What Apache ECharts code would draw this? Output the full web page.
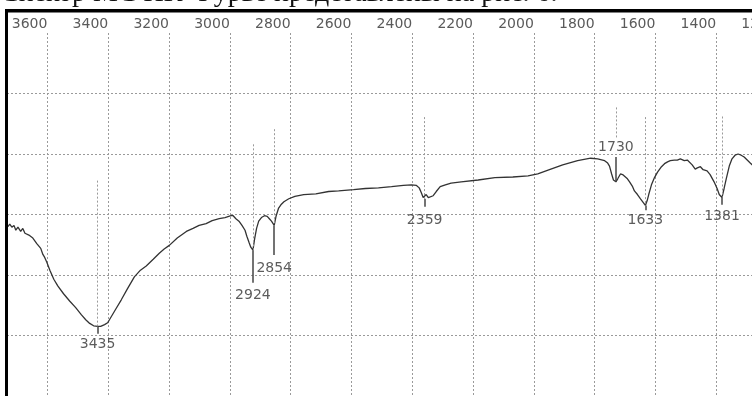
<!DOCTYPE html>
<html><head><meta charset="utf-8">
<script src="https://cdn.jsdelivr.net/npm/echarts@6/dist/echarts.min.js"></script>
<style>html,body{margin:0;padding:0;background:#fff;overflow:hidden;width:752px;height:396px;}#c{width:780px;height:396px;}</style>
</head><body><div id="c"></div>
<script>
// IR spectrum, wavenumber (cm-1) vs transmittance (arbitrary units)
const wavenumbers = [3730,3724,3717,3710,3704,3697,3688,3681,3674,3668,3661,3655,3648,3642,3635,3629,3622,3615,3609,3602,
3592,3579,3566,3547,3527,3507,3488,3474,3461,3448,3435,3425,3412,3402,3396,3376,3357,3337,3314,3294,3275,3252,3232,3216,3199,
3173,3143,3121,3101,3078,3058,3035,3016,2996,2989,2980,2970,2960,2950,2944,2937,2931,2924,2918,2912,2905,2896,2886,2877,2870,
2863,2854,2848,2840,2832,2822,2806,2786,2757,2717,2675,2642,2593,2554,2511,2468,2429,2403,2386,2377,2370,2364,2359,2354,2347,
2341,2331,2321,2308,2291,2272,2239,2183,2128,2069,2019,1987,1944,1905,1856,1813,1790,1767,1757,1751,1744,1738,1730,1724,1715,
1708,1702,1692,1685,1675,1669,1659,1649,1643,1633,1627,1622,1613,1603,1593,1580,1570,1560,1551,1538,1528,1518,1505,1495,1489,
1479,1469,1462,1452,1443,1430,1420,1407,1397,1390,1381,1374,1367,1357,1348,1338,1328,1318,1308,1298,1288,1275];
const transmittance = [68.0,68.4,67.9,68.2,67.4,67.9,67.2,67.7,66.9,67.2,66.6,66.9,66.1,66.2,65.2,65.4,64.4,63.4,62.9,62.1,
60.8,59.3,58.2,56.9,55.7,54.6,53.4,52.6,52.0,51.6,51.5,51.5,51.8,52.1,52.6,54.3,55.9,57.7,59.7,60.8,61.5,62.6,63.6,64.3,64.9,
66.1,67.2,67.7,68.2,68.5,69.0,69.3,69.5,69.8,69.8,69.3,68.9,68.2,67.4,66.4,65.4,64.6,64.1,66.1,67.7,68.9,69.5,69.8,69.7,69.3,
68.9,68.2,69.7,71.0,71.6,72.1,72.6,73.0,73.3,73.4,73.8,73.9,74.1,74.3,74.4,74.6,74.8,74.9,74.8,74.4,73.6,72.8,72.6,73.3,72.8,
72.8,73.1,73.8,74.6,74.9,75.2,75.4,75.7,76.1,76.2,76.4,76.7,77.5,78.2,78.9,79.3,79.2,78.9,78.5,78.0,76.7,75.7,75.4,75.9,76.7,
76.6,76.4,75.9,75.4,74.6,73.9,73.3,72.6,72.3,71.5,72.3,73.3,74.9,76.1,77.0,77.9,78.4,78.7,78.9,79.0,79.0,79.2,78.9,79.0,78.7,
78.2,77.5,77.7,77.9,77.4,77.2,76.6,75.4,74.3,73.3,72.8,74.3,75.9,78.0,79.2,79.8,80.0,79.8,79.5,79.0,78.5,77.9];

// peak annotations
const peakWn      = [3435, 2924, 2854, 2359, 1730, 1633, 1381];
const guideTop    = [75.6, 81.6, 84.1, 86.1, 87.7, 86.1, 86.2];
const guideBottom = [51.5, 64.1, 68.2, 72.6, 82.5, 71.5, 72.8];
const stemFrom    = [51.5, 64.1, 68.2, 72.6, 79.5, 71.5, 72.8];
const stemTo      = [50.3, 58.7, 63.3, 71.3, 75.4, 70.7, 71.6];
const labelY      = [48.5, 56.7, 61.1, 69.0, 81.1, 69.0, 69.7];

// axis ticks
const xMin = 1200, xMax = 3733, xStep = 200;
const yMin = 40, yMax = 100, yStep = 10;

const chart = echarts.init(document.getElementById('c'), null, {renderer: 'canvas'});
const dotted = {type: [2, 2], color: '#9a9a9a', width: 1};

chart.setOption({
  animation: false,
  backgroundColor: '#fff',
  grid: {left: 7, right: 0, top: 33, bottom: -3, containLabel: false},
  xAxis: {
    type: 'value', inverse: true, position: 'top',
    min: xMin, max: xMax, interval: xStep,
    axisLine: {show: false}, axisTick: {show: false},
    axisLabel: {align: 'right', margin: 2, color: '#5a5a5a', fontSize: 14, fontFamily: 'DejaVu Sans',
      showMaxLabel: false, formatter: v => String(v)},
    splitLine: {show: true, showMaxLine: false, lineStyle: dotted}
  },
  yAxis: {
    type: 'value', min: yMin, max: yMax, interval: yStep,
    axisLine: {show: false}, axisTick: {show: false}, axisLabel: {show: false},
    splitLine: {show: true, showMaxLine: false, showMinLine: false, lineStyle: dotted}
  },
  series: [
    {
      type: 'line', name: 'spectrum', showSymbol: false, symbol: 'none',
      data: wavenumbers.map((w, i) => [w, transmittance[i]]),
      lineStyle: {color: '#333', width: 1.3}, z: 3,
      markLine: {
        silent: true, symbol: 'none', label: {show: false}, animation: false,
        lineStyle: {type: [2, 2], color: '#9a9a9a', width: 1},
        data: peakWn.map((w, i) => [{coord: [w, guideTop[i]]}, {coord: [w, guideBottom[i]]}])
      }
    },
    {
      type: 'line', name: 'stems', showSymbol: false, symbol: 'none', data: [],
      markLine: {
        silent: true, symbol: 'none', label: {show: false}, animation: false,
        lineStyle: {type: 'solid', color: '#444', width: 1.5},
        data: peakWn.map((w, i) => [{coord: [w, stemFrom[i]]}, {coord: [w, stemTo[i]]}])
      }
    },
    {
      type: 'scatter', name: 'peaks', symbolSize: 0, z: 5,
      data: peakWn.map((w, i) => [w, labelY[i]]),
      label: {show: true, position: 'inside', color: '#333', fontSize: 14, fontFamily: 'DejaVu Sans',
        formatter: p => String(peakWn[p.dataIndex])}
    }
  ],
  graphic: [
    {type: 'text', left: 0, top: -20, z: 10, silent: true,
      style: {text: 'Спектр МС ИК-Фурье представлены на рис. 6.', font: '28px "Liberation Serif"', fill: '#111'}},
    {type: 'rect', shape: {x: 5, y: 9, width: 775, height: 3.5}, style: {fill: '#000'}, z: 10, silent: true},
    {type: 'rect', shape: {x: 5, y: 9, width: 3, height: 387}, style: {fill: '#000'}, z: 10, silent: true}
  ]
});
</script></body></html>
